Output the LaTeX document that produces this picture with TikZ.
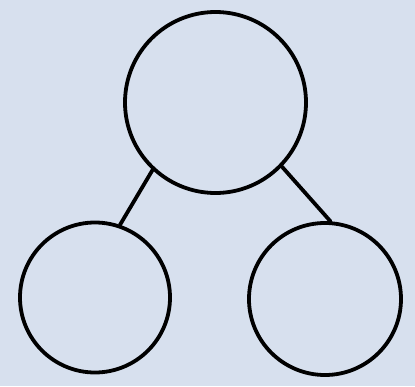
\documentclass[tikz,border=0pt]{standalone}
\usepackage{tikz}
\usetikzlibrary{positioning}
\definecolor{paper}{RGB}{215,224,238}

\begin{document}
\begin{tikzpicture}[x=1pt, y=-1pt, line join=round, line cap=round,
  ring/.style={circle, draw=black, line width=3.8pt, inner sep=0pt}]
% background sheet
\fill[paper] (0,0) rectangle (415,386);
\useasboundingbox (0,0) rectangle (415,386);
% the three circles
\node[ring, minimum size=181pt] (top) at (215.5,102.5) {};
\node[ring, minimum size=150pt] (left) at (95,297.5) {};
\node[ring, minimum size=152pt] (right) at (325,299) {};
% links
\draw[line width=3.8pt] (top.227.6) -- (left.71.4);
\draw[line width=3.8pt] (top.316.3) -- (right.86);
\end{tikzpicture}
\end{document}
